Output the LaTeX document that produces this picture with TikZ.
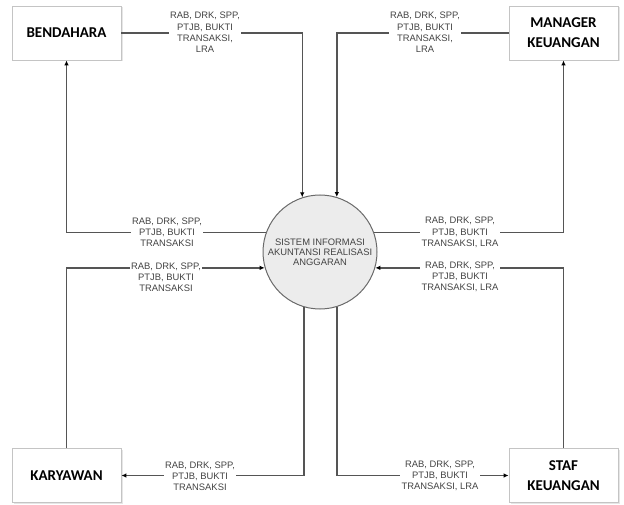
\documentclass[tikz,border=0pt]{standalone}
\usepackage{fontspec}
\setmainfont{Liberation Sans}
\newfontfamily\boxfont{Carlito}
\usetikzlibrary{arrows.meta,shadows}

\definecolor{boxline}{HTML}{C4C4C4}
\definecolor{procline}{HTML}{6A6A6A}
\definecolor{procfill}{HTML}{ECECEC}
\definecolor{flowline}{HTML}{555555}
\definecolor{labeltext}{HTML}{444444}

\begin{document}
\begin{tikzpicture}[x=1pt,y=1pt,
  entity/.style={draw=boxline, fill=white, line width=0.8pt,
    minimum width=109pt, minimum height=54pt, inner sep=2pt, align=center,
    font=\boxfont\bfseries\fontsize{15}{20}\selectfont, text=black,
    drop shadow={shadow xshift=1.5pt, shadow yshift=-1.5pt, opacity=0.2}},
  process/.style={circle, draw=procline, fill=procfill, line width=1pt,
    minimum size=114pt, inner sep=0pt, align=center,
    font=\fontsize{9.4}{10}\selectfont, text=labeltext},
  flow/.style={draw=flowline, line width=1.4pt,
    -{Latex[length=5pt,width=4.5pt,color=black]}},
  lbl/.style={fill=white, inner sep=1.5pt, align=center,
    font=\fontsize{9.4}{11.2}\selectfont, text=labeltext}
]
\useasboundingbox (0,0) rectangle (624,504);

% external entities
\node[entity] (bend) at (66.5,471)  {BENDAHARA};
\node[entity] (mgr)  at (563.5,471) {MANAGER\\KEUANGAN};
\node[entity] (kary) at (66.5,28.5) {KARYAWAN};
\node[entity] (staf) at (563.5,28.5) {STAF\\KEUANGAN};

% central process
\node[process] (sys) at (320,252) {SISTEM INFORMASI\\AKUNTANSI REALISASI\\ANGGARAN};

% data flows
\draw[flow] (bend.east)  -| (sys.108);
\draw[flow] (sys.160)    -| (bend.south);
\draw[flow] (kary.north) |- (sys.196);
\draw[flow] (sys.254)    |- (kary.east);
\draw[flow] (mgr.west)   -| (sys.73);
\draw[flow] (sys.20)     -| (mgr.south);
\draw[flow] (staf.north) |- (sys.344);
\draw[flow] (sys.287)    |- (staf.west);

% flow labels
\node[lbl] (f1) at (205,471.5) {RAB, DRK, SPP,\\PTJB, BUKTI\\TRANSAKSI,\\LRA};
\node[lbl] (f2) at (425,471.5) {RAB, DRK, SPP,\\PTJB, BUKTI\\TRANSAKSI,\\LRA};
\node[lbl] (f3) at (167,272)   {RAB, DRK, SPP,\\PTJB, BUKTI\\TRANSAKSI};
\node[lbl] (f4) at (166,227)   {RAB, DRK, SPP,\\PTJB, BUKTI\\TRANSAKSI};
\node[lbl] (f5) at (460,271.5) {RAB, DRK, SPP,\\PTJB, BUKTI\\TRANSAKSI, LRA};
\node[lbl] (f6) at (460,227)   {RAB, DRK, SPP,\\PTJB, BUKTI\\TRANSAKSI, LRA};
\node[lbl] (f7) at (200,28)    {RAB, DRK, SPP,\\PTJB, BUKTI\\TRANSAKSI};
\node[lbl] (f8) at (440,28)    {RAB, DRK, SPP,\\PTJB, BUKTI\\TRANSAKSI, LRA};
\end{tikzpicture}
\end{document}
